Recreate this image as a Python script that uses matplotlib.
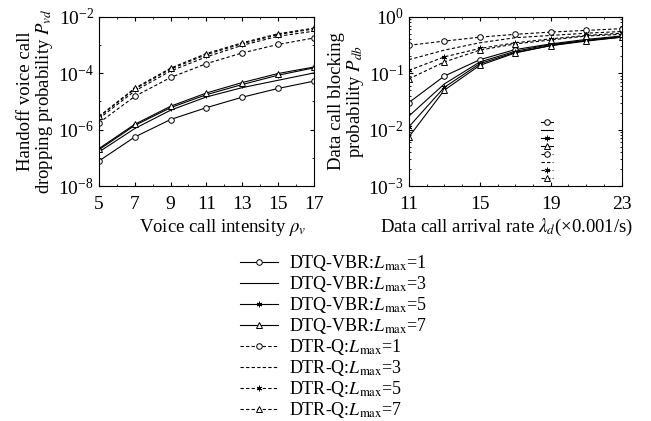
import matplotlib
matplotlib.use('Agg')
import matplotlib.pyplot as plt
import numpy as np
from matplotlib.ticker import MultipleLocator, LogLocator, NullFormatter

plt.rcParams['font.family'] = 'Liberation Serif'
plt.rcParams['mathtext.fontset'] = 'stix'

# voice call intensity vs handoff dropping probability (log10 values)
rho_v = [5, 7, 9, 11, 13, 15, 17]
pvd_dtq_1 = [-7.11, -6.26, -5.64, -5.22, -4.85, -4.54, -4.28]
pvd_dtq_3 = [-6.79, -5.96, -5.31, -4.84, -4.51, -4.25, -3.99]
pvd_dtq_5 = [-6.71, -5.85, -5.22, -4.76, -4.40, -4.07, -3.81]
pvd_dtq_7 = [-6.67, -5.81, -5.17, -4.70, -4.33, -4.01, -3.78]
pvd_dtr_1 = [-5.76, -4.82, -4.15, -3.66, -3.28, -2.98, -2.75]
pvd_dtr_3 = [-5.61, -4.63, -3.92, -3.42, -3.01, -2.69, -2.51]
pvd_dtr_5 = [-5.55, -4.56, -3.85, -3.34, -2.95, -2.63, -2.43]
pvd_dtr_7 = [-5.53, -4.53, -3.82, -3.30, -2.92, -2.60, -2.40]

# data call arrival rate vs data blocking probability (log10 values)
lam_d = [11, 13, 15, 17, 19, 21, 23]
pdb_dtq_1 = [-1.52, -1.05, -0.76, -0.58, -0.48, -0.40, -0.34]
pdb_dtq_3 = [-1.76, -1.19, -0.80, -0.61, -0.49, -0.42, -0.35]
pdb_dtq_5 = [-1.95, -1.25, -0.83, -0.63, -0.51, -0.42, -0.36]
pdb_dtq_7 = [-2.13, -1.30, -0.86, -0.64, -0.51, -0.43, -0.36]
pdb_dtr_1 = [-0.505, -0.43, -0.36, -0.31, -0.27, -0.24, -0.21]
pdb_dtr_3 = [-0.76, -0.59, -0.46, -0.37, -0.33, -0.29, -0.26]
pdb_dtr_5 = [-0.95, -0.71, -0.56, -0.46, -0.39, -0.33, -0.29]
pdb_dtr_7 = [-1.10, -0.80, -0.59, -0.48, -0.41, -0.34, -0.31]

labels = ['DTQ-VBR:$L_{\\mathrm{max}}$=1', 'DTQ-VBR:$L_{\\mathrm{max}}$=3',
          'DTQ-VBR:$L_{\\mathrm{max}}$=5', 'DTQ-VBR:$L_{\\mathrm{max}}$=7',
          'DTR-Q:$L_{\\mathrm{max}}$=1', 'DTR-Q:$L_{\\mathrm{max}}$=3',
          'DTR-Q:$L_{\\mathrm{max}}$=5', 'DTR-Q:$L_{\\mathrm{max}}$=7']
markers = ['o', 'None', (6, 2, 0), '^', 'o', 'None', (6, 2, 0), '^']
styles = ['-', '-', '-', '-', (0, (3, 2)), (0, (3, 2)), (0, (3, 2)), (0, (3, 2))]

left_series = [pvd_dtq_1, pvd_dtq_3, pvd_dtq_5, pvd_dtq_7,
               pvd_dtr_1, pvd_dtr_3, pvd_dtr_5, pvd_dtr_7]
right_series = [pdb_dtq_1, pdb_dtq_3, pdb_dtq_5, pdb_dtq_7,
                pdb_dtr_1, pdb_dtr_3, pdb_dtr_5, pdb_dtr_7]

fig = plt.figure(figsize=(6.51, 4.21), dpi=100)
ax1 = fig.add_axes([0.152, 0.558, 0.330, 0.402])
ax2 = fig.add_axes([0.628, 0.558, 0.327, 0.402])

handles = []
for s, m, ls, lab in zip(left_series, markers, styles, labels):
    h, = ax1.plot(rho_v, 10 ** np.array(s), color='black', lw=0.8, linestyle=ls,
                  marker=m, markersize=4, markerfacecolor='white', markeredgewidth=0.7,
                  label=lab)
    handles.append(h)
for s, m, ls in zip(right_series, markers, styles):
    ax2.plot(lam_d, 10 ** np.array(s), color='black', lw=0.8, linestyle=ls,
             marker=m, markersize=4, markerfacecolor='white', markeredgewidth=0.7)

ax1.set_yscale('log')
ax1.set_xlim(5, 17)
ax1.set_ylim(1e-8, 1e-2)
ax1.set_xticks([5, 7, 9, 11, 13, 15, 17])
ax1.xaxis.set_minor_locator(MultipleLocator(1))
ax1.set_yticks([1e-8, 1e-6, 1e-4, 1e-2])
ax1.yaxis.set_minor_locator(LogLocator(base=10, numticks=20))
ax1.yaxis.set_minor_formatter(NullFormatter())
ax1.set_xlabel('Voice call intensity $\\rho_v$', fontsize=13.5, labelpad=3)
ax1.xaxis.label.set_x(0.575)
ax1.set_ylabel('Handoff voice call\ndropping probability $P_{vd}$', fontsize=13.5,
               linespacing=1.0, labelpad=2)

ax2.set_yscale('log')
ax2.set_xlim(11, 23)
ax2.set_ylim(1e-3, 1)
ax2.set_xticks([11, 15, 19, 23])
ax2.xaxis.set_minor_locator(MultipleLocator(1))
ax2.set_yticks([1e-3, 1e-2, 1e-1, 1])
ax2.yaxis.set_minor_formatter(NullFormatter())
ax2.set_xlabel('Data call arrival rate $\\lambda_d$(\u00d70.001/s)', fontsize=13.5, labelpad=3)
ax2.xaxis.label.set_x(0.46)
ax2.set_ylabel('Data call blocking\nprobability $P_{db}$', fontsize=13.5,
               linespacing=1.0, labelpad=2)

for ax in (ax1, ax2):
    ax.tick_params(which='both', direction='in', top=True, right=True, labelsize=14)
    ax.tick_params(axis='x', which='major', pad=7)
    ax.tick_params(which='major', length=3)
    ax.tick_params(which='minor', length=1.5)
    for sp in ax.spines.values():
        sp.set_linewidth(0.8)

# small stray legend inside the right panel (handles only)
ax2.legend(handles, [''] * 8, loc='upper left', bbox_to_anchor=(0.61, 0.41),
           frameon=False, fontsize=4, handlelength=2.0, handletextpad=0,
           labelspacing=0.55, borderpad=0)

fig.legend(handles, labels, loc='upper left', bbox_to_anchor=(0.355, 0.42),
           frameon=False, fontsize=13, handlelength=2.1, handletextpad=0.6,
           labelspacing=0.055, borderpad=0)

fig.savefig('out.png', dpi=100)
